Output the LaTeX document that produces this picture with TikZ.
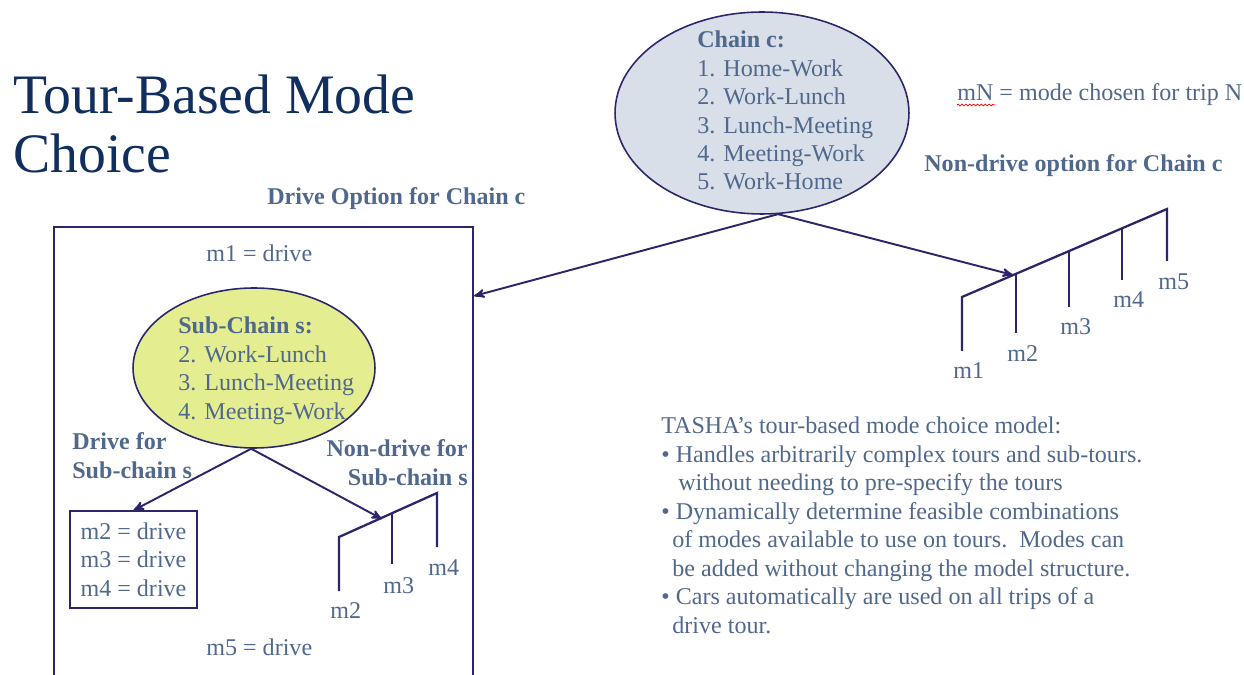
\documentclass[tikz,border=0pt]{standalone}
\usepackage{fontspec}
\setmainfont{Liberation Serif}
\usetikzlibrary{arrows,shapes.geometric,decorations.pathmorphing}

\definecolor{slate}{RGB}{80,104,140}
\definecolor{navy}{RGB}{43,38,105}
\definecolor{titleblue}{RGB}{16,46,94}
\definecolor{chainfill}{RGB}{216,223,233}
\definecolor{subfill}{RGB}{228,238,145}

\begin{document}
\begin{tikzpicture}[x=0.02cm, y=-0.02cm, >=stealth',
  txt/.style={text=slate, font=\fontsize{13.7}{16.2}\selectfont, inner sep=0pt},
  hd/.style={text=slate, font=\fontsize{13.7}{16.2}\selectfont\bfseries, inner sep=0pt},
  tree/.style={navy, line width=1.3pt},
  conn/.style={->, navy, line width=1.1pt}]
  \useasboundingbox (0,0) rectangle (1244,675);

  \draw (13,173) node[anchor=base west, align=left, inner sep=0pt, text=titleblue, font=\fontsize{31.7}{34}\selectfont] (title) {Tour-Based Mode\\Choice};

  \draw (53,226) node[draw=navy, line width=0.9pt, anchor=north west, minimum width=8.38cm, minimum height=9.6cm] (drivebox) {};
  \draw (762,113) node[ellipse, draw=navy, line width=0.9pt, fill=chainfill, inner sep=0pt, minimum width=5.88cm, minimum height=4.04cm] (chain) {};
  \draw (254,368) node[ellipse, draw=navy, line width=0.9pt, fill=subfill, inner sep=0pt, minimum width=4.84cm, minimum height=3.2cm] (sub) {};

  \draw (697,190) node[txt, anchor=base west, align=left] (chaintxt) {\textbf{Chain c:}\\1. Home-Work\\2. Work-Lunch\\3. Lunch-Meeting\\4. Meeting-Work\\5. Work-Home};
  \draw (178,419) node[txt, anchor=base west, align=left] (subtxt) {\textbf{Sub-Chain s:}\\2. Work-Lunch\\3. Lunch-Meeting\\4. Meeting-Work};

  \draw (957,101) node[txt, anchor=base west] (legend) {mN = mode chosen for trip N};
  \draw[red, line width=0.4pt, decorate, decoration={snake, amplitude=0.5pt, segment length=2.2pt}] (957,105) -- (995,105);

  \draw (267,205) node[hd, anchor=base west] (drivehd) {Drive Option for Chain c};
  \draw (924,172) node[hd, anchor=base west] (nondrivehd) {Non-drive option for Chain c};
  \draw (72,478) node[hd, anchor=base west, align=left] (subdrivehd) {Drive for\\Sub-chain s};
  \draw (468,485) node[hd, anchor=base east, align=right] (subnondrivehd) {Non-drive for\\Sub-chain s};

  \draw (206,262) node[txt, anchor=base west] (mone) {m1 = drive};
  \draw (206,655) node[txt, anchor=base west] (mfive) {m5 = drive};
  \draw (133.5,559.5) node[txt, draw=navy, line width=0.8pt, align=left, minimum width=2.54cm, minimum height=1.94cm] (subbox) {m2 = drive\\m3 = drive\\m4 = drive};

  \coordinate (na) at (962,297);
  \coordinate (nb) at (1167,209);
  \coordinate (ntip) at (1013,275);
  \draw[tree] (962,351) -- (na) -- (nb) -- (1167,261);
  \foreach \x/\y/\z in {1016/274/333, 1069/251/307, 1122/228/280}
    \draw[tree] (\x,\y) -- (\x,\z);
  \draw (953,378) node[txt, anchor=base west] (nm1) {m1};
  \draw (1007,362) node[txt, anchor=base west] (nm2) {m2};
  \draw (1060,335) node[txt, anchor=base west] (nm3) {m3};
  \draw (1113,308) node[txt, anchor=base west] (nm4) {m4};
  \draw (1158,290) node[txt, anchor=base west] (nm5) {m5};

  \coordinate (sa) at (339,537);
  \coordinate (sb) at (437,493);
  \coordinate (stip) at (382,519);
  \draw[tree] (339,591) -- (sa) -- (sb) -- (437,547);
  \draw[tree] (392,513) -- (392,564);
  \draw (330,618) node[txt, anchor=base west] (sm2) {m2};
  \draw (383,593) node[txt, anchor=base west] (sm3) {m3};
  \draw (428,575) node[txt, anchor=base west] (sm4) {m4};

  \coordinate (dtip) at (474,296);
  \draw[conn] (chain.-81.5) -- (dtip);
  \draw[conn] (chain.-81.5) -- (ntip);
  \draw[conn] (sub.-92) -- (subbox.north);
  \draw[conn] (sub.-92) -- (stip);

  \draw (661,633) node[txt, anchor=base west, align=left] (tasha) {TASHA’s tour-based mode choice model:\\
    \textbullet\ Handles arbitrarily complex tours and sub-tours.\\
    \hspace*{0.34cm}without needing to pre-specify the tours\\
    \textbullet\ Dynamically determine feasible combinations\\
    \hspace*{0.22cm}of modes available to use on tours.\ \ Modes can\\
    \hspace*{0.22cm}be added without changing the model structure.\\
    \textbullet\ Cars automatically are used on all trips of a\\
    \hspace*{0.22cm}drive tour.};

\end{tikzpicture}
\end{document}
